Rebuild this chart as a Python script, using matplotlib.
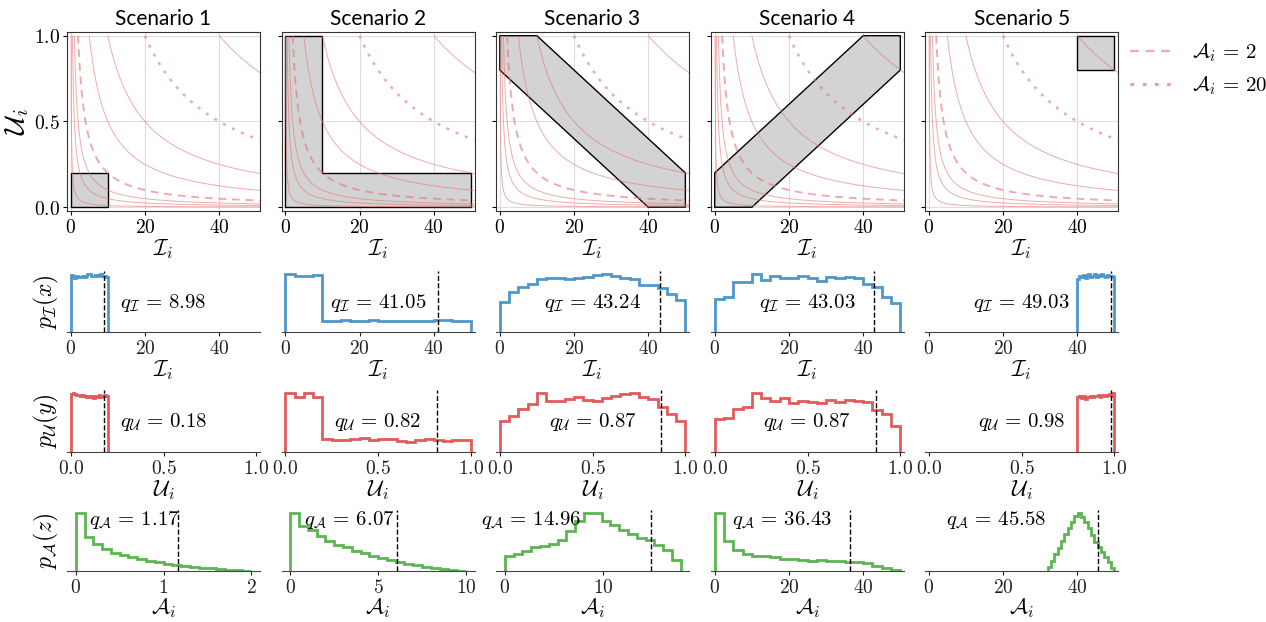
import numpy as np
import matplotlib
matplotlib.use("Agg")
import matplotlib.pyplot as plt
from matplotlib.patches import Polygon
from matplotlib.ticker import FormatStrFormatter

plt.rcParams['mathtext.fontset'] = 'cm'
plt.rcParams['font.family'] = ['Lato', 'DejaVu Sans']

# ---- data ----
titles = ['Scenario 1', 'Scenario 2', 'Scenario 3', 'Scenario 4', 'Scenario 5']

# grey regions in the (I, U) plane
regions = [
    [(0, 0), (10, 0), (10, 0.2), (0, 0.2)],
    [(0, 0), (50, 0), (50, 0.2), (10, 0.2), (10, 1), (0, 1)],
    [(0, 0.8), (0, 1), (10, 1), (50, 0.2), (50, 0), (40, 0)],
    [(0, 0), (0, 0.2), (40, 1), (50, 1), (50, 0.8), (10, 0)],
    [(40, 0.8), (50, 0.8), (50, 1), (40, 1)],
]

# iso-lines of A = I * U
a_levels = [0.1, 0.5, 1, 2, 5, 10, 20, 40]

# histogram ranges (20 bins each)
I_range = [(0, 10), (0, 50), (0, 50), (0, 50), (40, 50)]
U_range = [(0, 0.2), (0, 1), (0, 1), (0, 1), (0.8, 1)]
A_range = [(0, 2), (0, 10), (0, 17.95), (0, 50), (32, 50)]

# bin heights (relative)
I_hist = [
    [0.98, 0.95, 0.93, 0.96, 0.94, 0.95, 0.97, 0.95, 0.96, 0.99, 1.0, 0.97, 0.96, 0.98, 0.97, 0.98, 0.99, 0.97, 0.96, 0.95],
    [173, 168, 168, 171, 32, 31, 34, 33, 32, 34, 33, 32, 31, 31, 32, 31, 34, 36, 33, 31],
    [90, 118, 135, 142, 158, 162, 162, 158, 160, 164, 170, 173, 168, 160, 158, 140, 140, 130, 112, 95],
    [97, 105, 150, 150, 173, 155, 168, 160, 162, 168, 162, 152, 165, 162, 164, 160, 142, 133, 105, 85],
    [0.92, 0.97, 0.95, 0.98, 0.93, 0.96, 0.99, 0.94, 0.97, 1.0, 0.95, 0.98, 0.96, 0.99, 0.97, 0.95, 0.98, 0.96, 0.97, 0.95],
]
U_hist = [
    [0.99, 1.0, 0.99, 0.98, 0.97, 0.96, 0.97, 0.95, 0.94, 0.96, 0.93, 0.95, 0.92, 0.96, 0.94, 0.97, 0.93, 0.96, 0.97, 0.95],
    [175, 165, 175, 165, 38, 35, 35, 38, 42, 35, 38, 38, 32, 30, 35, 38, 35, 32, 35, 35],
    [92, 107, 128, 143, 175, 153, 153, 158, 165, 155, 153, 162, 168, 172, 175, 165, 158, 133, 112, 92],
    [97, 102, 127, 135, 175, 162, 152, 160, 145, 152, 150, 145, 155, 150, 155, 152, 150, 125, 112, 78],
    [0.93, 0.95, 0.92, 0.96, 0.90, 0.94, 0.93, 0.95, 0.94, 0.96, 0.95, 0.97, 0.94, 0.96, 0.98, 0.95, 0.97, 0.99, 0.96, 1.0],
]
A_hist = [
    [173, 103, 80, 66, 55, 48, 41, 36, 31, 26, 22, 19, 15, 12, 10, 8, 6, 4, 2, 1],
    [171, 133, 120, 105, 88, 76, 71, 60, 53, 45, 38, 32, 27, 22, 17, 13, 10, 6, 3, 1],
    [43, 51, 58, 70, 75, 80, 93, 118, 148, 171, 171, 148, 135, 120, 111, 98, 93, 78, 63, 33],
    [171, 88, 61, 51, 45, 43, 40, 35, 36, 33, 31, 33, 30, 30, 28, 26, 23, 16, 10, 3],
    [13, 31, 51, 70, 90, 110, 130, 148, 165, 173, 161, 148, 130, 108, 86, 73, 58, 43, 26, 8],
]

q_I = [8.98, 41.05, 43.24, 43.03, 49.03]
q_U = [0.18, 0.82, 0.87, 0.87, 0.98]
q_A = [1.17, 6.07, 14.96, 36.43, 45.58]

A_ticks = [[0, 1, 2], [0, 5, 10], [0, 10], [0, 20, 40], [0, 20, 40]]
A_xlim = [(-0.1, 2.1), (-0.5, 10.5), (-0.9, 18.8), (-1, 51), (-1, 51)]
qA_xpos = [0.35, 0.35, 0.18, 0.37, 0.37]

blue = '#4e97cb'
red = '#e05c5c'
green = '#5cb552'
iso_col = '#e57373'
dash = (0, (4, 3))
dot = (0, (1.2, 2.8))

fig = plt.figure(figsize=(12.66, 6.22), dpi=100)

lefts = [0.0529, 0.2224, 0.3918, 0.5616, 0.7307]
w = 0.1525
rows = [(0.6613, 0.2868), (0.4667, 0.0976), (0.2738, 0.0984), (0.0820, 0.0975)]

Igrid = np.linspace(0.01, 51, 600)
Ugrid = np.linspace(0.0005, 1.0, 600)
II, UU = np.meshgrid(Igrid, Ugrid)

tick_fs = 14
lab_fs = 16


def hist_axes(ax):
    for s in ['top', 'right', 'left']:
        ax.spines[s].set_visible(False)
    ax.spines['bottom'].set_color('#444444')
    ax.set_yticks([])
    ax.tick_params(axis='x', labelsize=tick_fs, direction='out', length=3,
                   pad=2, colors='#222222')


for k in range(5):
    # ---- top row: region in the (I, U) plane ----
    ax = fig.add_axes([lefts[k], rows[0][0], w, rows[0][1]])
    ax.add_patch(Polygon(regions[k], closed=True, facecolor='#d3d3d3',
                         edgecolor='black', lw=1.0, zorder=1))
    styles = [dash if a == 2 else dot if a == 20 else '-' for a in a_levels]
    widths = [1.4 if a == 2 else 1.8 if a == 20 else 0.7 for a in a_levels]
    ax.contour(II, UU, II * UU, levels=a_levels, colors=iso_col,
               linestyles=styles, linewidths=widths, alpha=0.6, zorder=2)
    ax.set_xlim(-1, 51)
    ax.set_ylim(-0.02, 1.02)
    ax.set_xticks([0, 20, 40])
    ax.set_yticks([0, 0.5, 1.0])
    ax.xaxis.set_major_formatter(FormatStrFormatter(r'$%d$'))
    ax.yaxis.set_major_formatter(FormatStrFormatter(r'$%.1f$'))
    ax.grid(True, color='#dddddd', lw=0.8)
    ax.set_axisbelow(True)
    ax.tick_params(labelsize=tick_fs, direction='out', length=3, pad=2)
    for s in ax.spines.values():
        s.set_color('#333333')
    if k > 0:
        ax.set_yticklabels([])
    else:
        ax.set_ylabel(r'$\mathcal{U}_i$', fontsize=20, labelpad=2)
    ax.set_xlabel(r'$\mathcal{I}_i$', fontsize=lab_fs, labelpad=1)
    ax.set_title(titles[k], fontsize=15, pad=5)

    # ---- row 2: I marginal ----
    ax = fig.add_axes([lefts[k], rows[1][0], w, rows[1][1]])
    edges = np.linspace(I_range[k][0], I_range[k][1], 21)
    ax.stairs(I_hist[k], edges, color=blue, lw=2, baseline=0)
    ax.axvline(q_I[k], color='black', ls='--', lw=1)
    ax.set_xlim(-1, 51)
    ax.set_xticks([0, 20, 40])
    ax.xaxis.set_major_formatter(FormatStrFormatter(r'$%d$'))
    hist_axes(ax)
    ax.set_xlabel(r'$\mathcal{I}_i$', fontsize=lab_fs, labelpad=1)
    ax.text(0.5, 0.48, r'$q_{\mathcal{I}} \,=\, %.2f$' % q_I[k], transform=ax.transAxes,
            ha='center', va='center', fontsize=15)
    if k == 0:
        ax.set_ylabel(r'$p_{\mathcal{I}}(x)$', fontsize=17, labelpad=4)

    # ---- row 3: U marginal ----
    ax = fig.add_axes([lefts[k], rows[2][0], w, rows[2][1]])
    edges = np.linspace(U_range[k][0], U_range[k][1], 21)
    ax.stairs(U_hist[k], edges, color=red, lw=2, baseline=0)
    ax.axvline(q_U[k], color='black', ls='--', lw=1)
    ax.set_xlim(-0.02, 1.02)
    ax.set_xticks([0, 0.5, 1.0])
    ax.xaxis.set_major_formatter(FormatStrFormatter(r'$%.1f$'))
    hist_axes(ax)
    ax.set_xlabel(r'$\mathcal{U}_i$', fontsize=lab_fs, labelpad=1)
    ax.text(0.5, 0.48, r'$q_{\mathcal{U}} \,=\, %.2f$' % q_U[k], transform=ax.transAxes,
            ha='center', va='center', fontsize=15)
    if k == 0:
        ax.set_ylabel(r'$p_{\mathcal{U}}(y)$', fontsize=17, labelpad=4)

    # ---- row 4: A = I * U ----
    ax = fig.add_axes([lefts[k], rows[3][0], w, rows[3][1]])
    edges = np.linspace(A_range[k][0], A_range[k][1], 21)
    ax.stairs(A_hist[k], edges, color=green, lw=2, baseline=0)
    ax.axvline(q_A[k], color='black', ls='--', lw=1)
    ax.set_xlim(*A_xlim[k])
    ax.set_xticks(A_ticks[k])
    ax.xaxis.set_major_formatter(FormatStrFormatter(r'$%d$'))
    hist_axes(ax)
    ax.set_xlabel(r'$\mathcal{A}_i$', fontsize=lab_fs, labelpad=0)
    ax.text(qA_xpos[k], 0.84, r'$q_{\mathcal{A}} \,=\, %.2f$' % q_A[k], transform=ax.transAxes,
            ha='center', va='center', fontsize=15)
    if k == 0:
        ax.set_ylabel(r'$p_{\mathcal{A}}(z)$', fontsize=17, labelpad=4)

# legend for the two highlighted iso-lines
h1, = plt.plot([], [], color=iso_col, ls=dash, lw=1.6, alpha=0.6)
h2, = plt.plot([], [], color=iso_col, ls=dot, lw=2.2, alpha=0.7)
fig.legend([h1, h2], [r'$\mathcal{A}_i \,=\, 2$', r'$\mathcal{A}_i \,=\, 20$'],
           loc='upper left', bbox_to_anchor=(0.889, 0.94), frameon=False,
           fontsize=15, handlelength=2.1, handletextpad=0.9, borderaxespad=0,
           borderpad=0.2)

fig.savefig('out.png', dpi=100)
